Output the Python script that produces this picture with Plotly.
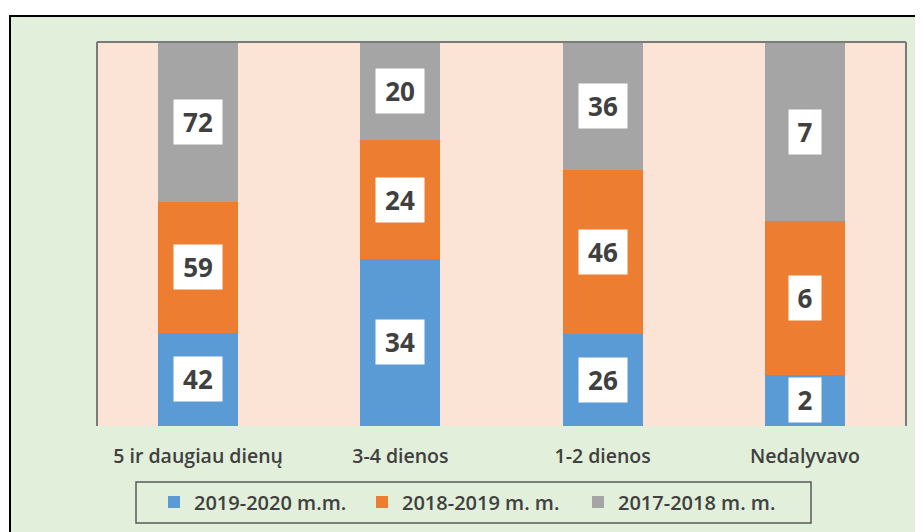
import plotly.graph_objects as go

categories = ["5 ir daugiau dienų", "3-4 dienos", "1-2 dienos", "Nedalyvavo"]
series_names = ["2019-2020 m.m.", "2018-2019 m. m.", "2017-2018 m. m."]
vals_2019_2020 = [42, 34, 26, 2]
vals_2018_2019 = [59, 24, 46, 6]
vals_2017_2018 = [72, 20, 36, 7]
colors = ["#5B9BD5", "#ED7D31", "#A5A5A5"]

series = [vals_2019_2020, vals_2018_2019, vals_2017_2018]

OFF = 8  # browser body margin
W, H = 923 - OFF, 532 - OFF
L, R, T, B = 97 - OFF, 906 - OFF, 42 - OFF, 426 - OFF  # plot area in figure px


def px_x(px):  # px in window coordinates
    return (px - OFF - L) / (R - L)


def px_y(py):
    return (B - (py - OFF)) / (B - T)


legend_ids = ["legend", "legend2", "legend3"]
legend_text_x = [192, 400, 616]

fig = go.Figure()
for name, vals, col, lid in zip(series_names, series, colors, legend_ids):
    fig.add_trace(go.Bar(
        x=categories, y=vals, name=name, marker=dict(color=col, line=dict(width=0)),
        width=0.395, hoverinfo="skip", legend=lid,
    ))

# labels: boxes at the middle of each segment (in percent of column total)
totals = [sum(s[i] for s in series) for i in range(len(categories))]
annotations = []
for i, cat in enumerate(categories):
    cum = 0.0
    for vals in series:
        pct = vals[i] / totals[i] * 100
        mid = cum + pct / 2
        cum += pct
        txt = str(vals[i])
        annotations.append(dict(
            x=cat, y=mid, xref="x", yref="y", text="<b>%s</b>" % txt, showarrow=False,
            font=dict(family="Open Sans", size=26, color="#404040"),
            bgcolor="#FFFFFF", borderpad=4, width=8 + 16 * len(txt),
        ))

shapes = [
    # white strips outside the outer frame
    dict(type="rect", xref="paper", yref="paper", x0=px_x(-20), x1=px_x(940), y0=px_y(15), y1=px_y(-20),
         fillcolor="white", line=dict(width=0), layer="above"),
    dict(type="rect", xref="paper", yref="paper", x0=px_x(-20), x1=px_x(10), y0=px_y(550), y1=px_y(-20),
         fillcolor="white", line=dict(width=0), layer="above"),
    # outer black frame
    dict(type="line", xref="paper", yref="paper", x0=px_x(9), x1=px_x(940), y0=px_y(16), y1=px_y(16),
         line=dict(color="black", width=2), layer="above"),
    dict(type="line", xref="paper", yref="paper", x0=px_x(10), x1=px_x(10), y0=px_y(15), y1=px_y(550),
         line=dict(color="black", width=2), layer="above"),
    # plot area border (top, left, right)
    dict(type="line", xref="paper", yref="paper", x0=0, x1=1, y0=1, y1=1,
         line=dict(color="#7a7a7a", width=2), layer="above"),
    dict(type="line", xref="paper", yref="paper", x0=0, x1=0, y0=0, y1=1,
         line=dict(color="#7a7a7a", width=2), layer="above"),
    dict(type="line", xref="paper", yref="paper", x0=1, x1=1, y0=0, y1=1,
         line=dict(color="#7a7a7a", width=2), layer="above"),
    # legend box
    dict(type="rect", xref="paper", yref="paper", x0=px_x(136), x1=px_x(811), y0=px_y(523), y1=px_y(482),
         line=dict(color="#595959", width=1.5), fillcolor="rgba(0,0,0,0)", layer="above"),
]

legend_font = dict(family="Open Sans", size=20, color="#404040", weight=600)
legends = {}
for lid, tx in zip(legend_ids, legend_text_x):
    legends[lid] = dict(orientation="h", x=px_x(tx - 38), xanchor="left", y=px_y(502), yanchor="middle",
                        font=legend_font, bgcolor="rgba(0,0,0,0)", borderwidth=0)

fig.update_layout(
    width=W, height=H,
    margin=dict(l=L, r=W - R, t=T, b=H - B, autoexpand=False),
    paper_bgcolor="#E2EFDA", plot_bgcolor="#FBE4D5",
    barmode="stack", barnorm="percent",
    showlegend=True,
    xaxis=dict(showline=False, showgrid=False, ticks="", zeroline=False, ticklabelstandoff=16,
               tickfont=dict(family="Open Sans", size=19.5, color="#404040", weight=600)),
    yaxis=dict(range=[0, 100], visible=False, showgrid=False, zeroline=False),
    annotations=annotations, shapes=shapes,
    **legends,
)

fig.write_html("out.html")
